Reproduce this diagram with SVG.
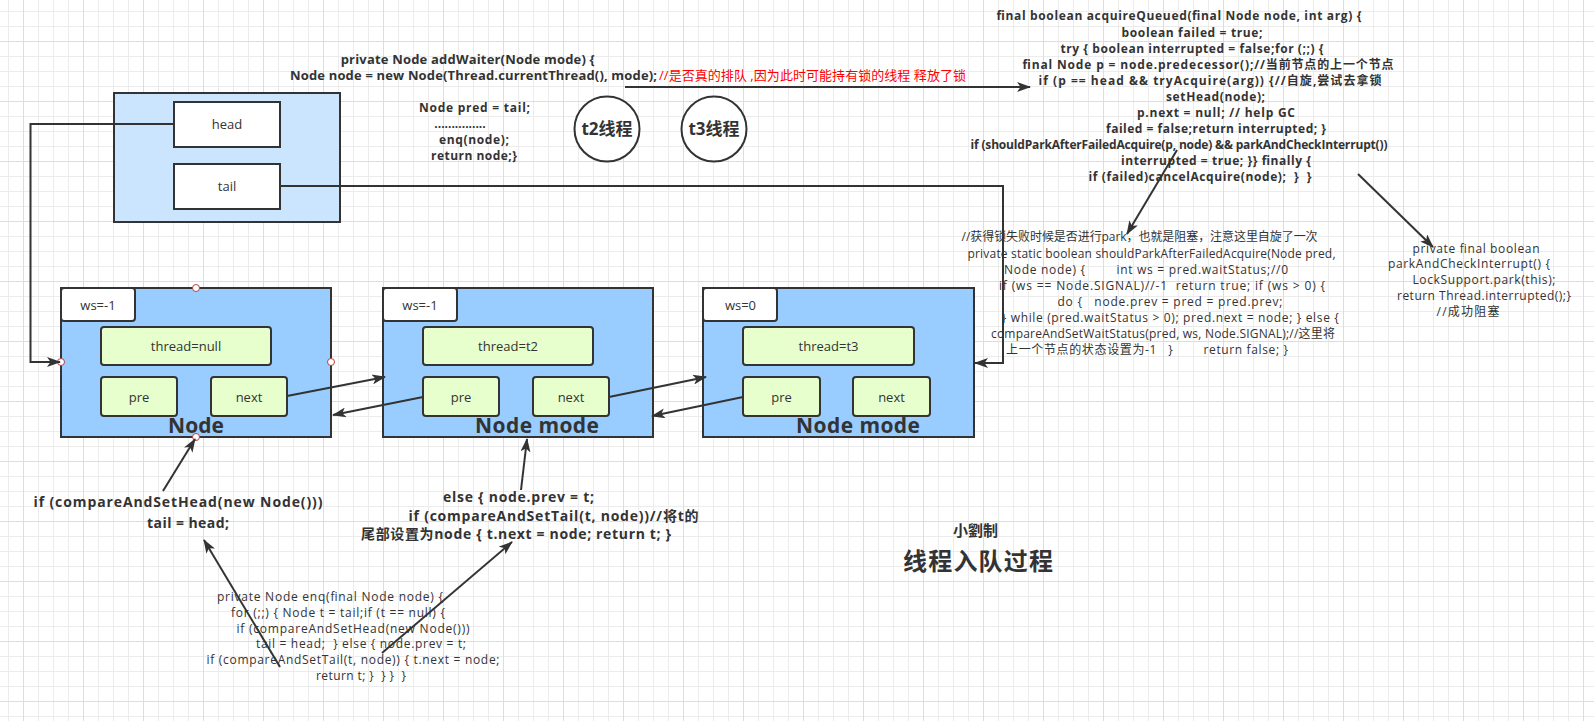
<svg xmlns="http://www.w3.org/2000/svg" width="1594" height="721" viewBox="0 0 1594 721">
<style>
text{font-family:'Open Sans','Noto Sans CJK SC',sans-serif;fill:#333333;}
.b{font-weight:bold;}
.c{text-anchor:middle;}
.s12{font-size:12px;}
.s13{font-size:13px;}
.s14{font-size:14px;}
.box{stroke:#333333;stroke-width:2;}
.node{fill:#99ccff;}
.ws{fill:#ffffff;}
.inner{fill:#e6ffcc;}
.conn{fill:none;stroke:#333333;stroke-width:2;marker-end:url(#arr);}
.lbl{font-size:21px;font-weight:bold;text-anchor:middle;}
.hdl{fill:#ffffff;stroke:#b84040;stroke-width:1;}
</style>
<defs>
<pattern id="gMinor" patternUnits="userSpaceOnUse" x="8" y="11" width="15" height="15">
<path d="M0.5 0 V15 M0 0.5 H15" stroke="#ececec" stroke-width="1" fill="none"/>
</pattern>
<pattern id="gMajor" patternUnits="userSpaceOnUse" x="23" y="41" width="60" height="60">
<path d="M0.5 0 V60 M0 0.5 H60" stroke="#dddddd" stroke-width="1" fill="none"/>
</pattern>
<marker id="arr" markerUnits="userSpaceOnUse" markerWidth="14" markerHeight="10" refX="13" refY="5" orient="auto">
<path d="M0,0 L14,5 L0,10 L3.5,5 Z" fill="#333333"/>
</marker>
</defs>
<rect width="1594" height="721" fill="#ffffff"/>
<rect width="1594" height="721" fill="url(#gMinor)"/>
<rect width="1594" height="721" fill="url(#gMajor)"/>

<g id="headTail">
<rect class="box" x="114" y="93" width="226" height="129" fill="#cce5ff"/>
<rect class="box" x="174" y="102" width="106" height="45" fill="#ffffff"/>
<text class="c s13" x="227" y="129">head</text>
<rect class="box" x="174" y="164" width="106" height="45" fill="#ffffff"/>
<text class="c s13" x="227" y="191">tail</text>
</g>

<g id="t2">
<circle cx="607" cy="129" r="32.5" fill="#ffffff" stroke="#333333" stroke-width="2"/>
<text class="c b" font-size="17" x="607" y="135">t2线程</text>
</g>
<g id="t3">
<circle cx="714" cy="129" r="32.5" fill="#ffffff" stroke="#333333" stroke-width="2"/>
<text class="c b" font-size="17" x="714" y="135">t3线程</text>
</g>

<g id="node1">
<rect class="box node" x="61" y="288" width="270" height="149"/>
<rect class="box ws" x="61" y="288" width="74" height="33" rx="3"/>
<text class="c s13" x="98" y="309.5">ws=-1</text>
<rect class="box inner" x="101" y="327" width="170" height="38" rx="3"/>
<text class="c s13" x="186" y="350.5">thread=null</text>
<rect class="box inner" x="101" y="377" width="76" height="39" rx="3"/>
<text class="c s13" x="139" y="401.5">pre</text>
<rect class="box inner" x="211" y="377" width="76" height="39" rx="3"/>
<text class="c s13" x="249" y="401.5">next</text>
<text class="lbl" x="196" y="433" textLength="56">Node</text>
<circle class="hdl" cx="196" cy="288" r="3.5"/>
<circle class="hdl" cx="61" cy="362" r="3.5"/>
<circle class="hdl" cx="331" cy="362" r="3.5"/>
<circle class="hdl" cx="196" cy="437" r="3.5"/>
</g>

<g id="node2">
<rect class="box node" x="383" y="288" width="270" height="149"/>
<rect class="box ws" x="383" y="288" width="74" height="33" rx="3"/>
<text class="c s13" x="420" y="309.5">ws=-1</text>
<rect class="box inner" x="423" y="327" width="170" height="38" rx="3"/>
<text class="c s13" x="508" y="350.5">thread=t2</text>
<rect class="box inner" x="423" y="377" width="76" height="39" rx="3"/>
<text class="c s13" x="461" y="401.5">pre</text>
<rect class="box inner" x="533" y="377" width="76" height="39" rx="3"/>
<text class="c s13" x="571" y="401.5">next</text>
<text class="lbl" x="537" y="433" textLength="124">Node mode</text>
</g>

<g id="node3">
<rect class="box node" x="703" y="288" width="271" height="149"/>
<rect class="box ws" x="703" y="288" width="74" height="33" rx="3"/>
<text class="c s13" x="740.5" y="309.5">ws=0</text>
<rect class="box inner" x="743" y="327" width="171" height="38" rx="3"/>
<text class="c s13" x="828.5" y="350.5">thread=t3</text>
<rect class="box inner" x="743" y="377" width="77" height="39" rx="3"/>
<text class="c s13" x="781.5" y="401.5">pre</text>
<rect class="box inner" x="853" y="377" width="77" height="39" rx="3"/>
<text class="c s13" x="891.5" y="401.5">next</text>
<text class="lbl" x="858" y="433" textLength="124">Node mode</text>
</g>

<g id="addWaiter">
<text class="c b s13" x="467.7" y="63.5" textLength="254">private Node addWaiter(Node mode) {</text>
<text class="b s13" x="290" y="79.5" textLength="367">Node node = new Node(Thread.currentThread(), mode);</text>
<text class="s13" x="659" y="79.5" textLength="307" style="fill:#ff0000">//是否真的排队 ,因为此时可能持有锁的线程 释放了锁</text>
<text class="c b s12" x="474.5" y="112.3" textLength="111">Node pred = tail;</text>
<text class="c b s12" x="460" y="128.3">...............</text>
<text class="c b s12" x="474" y="144.3" textLength="70">enq(node);</text>
<text class="c b s12" x="474" y="160.3" textLength="86">return node;}</text>
</g>

<g id="acquireQueued">
<text class="c b s12" x="1179" y="20.3" textLength="365">final boolean acquireQueued(final Node node, int arg) {</text>
<text class="c b s12" x="1192" y="36.6" textLength="141">boolean failed = true;</text>
<text class="c b s12" x="1192" y="52.6" textLength="263">try { boolean interrupted = false;for (;;) {</text>
<text class="c b s12" x="1208" y="68.6" textLength="371">final Node p = node.predecessor();//当前节点的上一个节点</text>
<text class="c b s12" x="1210" y="84.6" textLength="343">if (p == head &amp;&amp; tryAcquire(arg)) {//自旋,尝试去拿锁</text>
<text class="c b s12" x="1215.5" y="101" textLength="99">setHead(node);</text>
<text class="c b s12" x="1216" y="117" textLength="158">p.next = null; // help GC</text>
<text class="c b s12" x="1216" y="132.6" textLength="220">failed = false;return interrupted; }</text>
<text class="c b s12" x="1179" y="148.6" textLength="417">if (shouldParkAfterFailedAcquire(p, node) &amp;&amp; parkAndCheckInterrupt())</text>
<text class="c b s12" x="1216" y="165" textLength="190">interrupted = true; }} finally {</text>
<text class="c b s12" x="1200" y="181" textLength="223" xml:space="preserve">if (failed)cancelAcquire(node);  }  }</text>
</g>

<g id="shouldPark">
<text class="c s12" x="1139.6" y="241" textLength="356">//获得锁失败时候是否进行park，也就是阻塞，注意这里自旋了一次</text>
<text class="c s12" x="1151.5" y="257.6" textLength="368">private static boolean shouldParkAfterFailedAcquire(Node pred,</text>
<text class="c s12" x="1146" y="273.6" textLength="284" xml:space="preserve">Node node) {        int ws = pred.waitStatus;//0</text>
<text class="c s12" x="1162" y="290" textLength="326" xml:space="preserve">if (ws == Node.SIGNAL)//-1  return true; if (ws &gt; 0) {</text>
<text class="c s12" x="1170" y="306" textLength="225" xml:space="preserve">do {   node.prev = pred = pred.prev;</text>
<text class="c s12" x="1170.3" y="322" textLength="337">} while (pred.waitStatus &gt; 0); pred.next = node; } else {</text>
<text class="c s12" x="1163" y="337.6" textLength="344">compareAndSetWaitStatus(pred, ws, Node.SIGNAL);//这里将</text>
<text class="c s12" x="1147" y="353.6" textLength="282" xml:space="preserve">上一个节点的状态设置为-1   }        return false; }</text>
</g>

<g id="parkAndCheck">
<text class="c s12" x="1476" y="252.6" textLength="127">private final boolean</text>
<text class="c s12" x="1469" y="268.3" textLength="162">parkAndCheckInterrupt() {</text>
<text class="c s12" x="1484" y="283.6" textLength="143">LockSupport.park(this);</text>
<text class="c s12" x="1484" y="300" textLength="174">return Thread.interrupted();}</text>
<text class="c s12" x="1468" y="316" textLength="63">//成功阻塞</text>
</g>

<g id="casHead">
<text class="c b s14" x="178" y="507" textLength="289">if (compareAndSetHead(new Node()))</text>
<text class="c b s14" x="188" y="527.5" textLength="82">tail = head;</text>
</g>

<g id="casTail">
<text class="c b s14" x="518.5" y="502" textLength="151">else { node.prev = t;</text>
<text class="c b s14" x="553.5" y="520.5" textLength="290">if (compareAndSetTail(t, node))//将t的</text>
<text class="c b s14" x="516" y="538.7" textLength="310">尾部设置为node { t.next = node; return t; }</text>
</g>

<g id="enq">
<text class="c s12" x="330" y="601" textLength="226">private Node enq(final Node node) {</text>
<text class="c s12" x="338" y="617" textLength="214">for (;;) { Node t = tail;if (t == null) {</text>
<text class="c s12" x="353" y="632.6" textLength="233">if (compareAndSetHead(new Node()))</text>
<text class="c s12" x="361" y="648.3" textLength="210" xml:space="preserve">tail = head;  } else { node.prev = t;</text>
<text class="c s12" x="353" y="664.3" textLength="293">if (compareAndSetTail(t, node)) { t.next = node;</text>
<text class="c s12" x="361" y="680.3" textLength="90" xml:space="preserve">return t; }  } }  }</text>
</g>

<g id="title">
<text class="c b" font-size="15" x="975.5" y="535.5">小劉制</text>
<text class="c b" font-size="24" x="978" y="569.5" textLength="150">线程入队过程</text>
</g>

<g id="connectors">
<path class="conn" d="M174,124 H30.5 V362 H60"/>
<path class="conn" d="M280,186 H1003 V363 H975"/>
<path class="conn" d="M287,396 L385,377"/>
<path class="conn" d="M423,397 L333,415"/>
<path class="conn" d="M609,397 L706,377"/>
<path class="conn" d="M743,397 L652,416"/>
<path class="conn" d="M625,87 H1030"/>
<path class="conn" d="M1177,150 L1127,234"/>
<path class="conn" d="M1358,174 L1433,247"/>
<path class="conn" d="M163,491 L195,439"/>
<path class="conn" d="M521,490 L527,439"/>
<path class="conn" d="M280,667 L204,540"/>
<path class="conn" d="M382,653 L512,542"/>
</g>
</svg>
